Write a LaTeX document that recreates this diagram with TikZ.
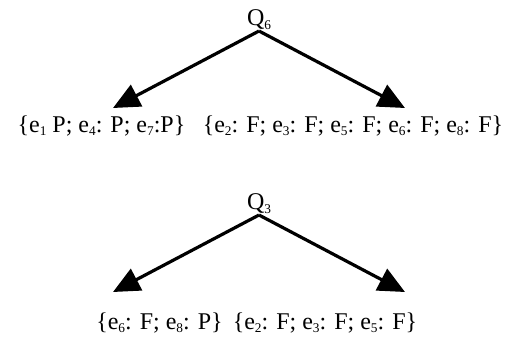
\documentclass[tikz,border=0pt]{standalone}
\usepackage{fontspec}
\setmainfont{Liberation Serif}
\usetikzlibrary{arrows.meta}

\newcommand\ix[1]{\raisebox{-0.35ex}{\fontsize{10}{10}\selectfont #1}}

\begin{document}
\begin{tikzpicture}[x=0.75pt, y=-0.75pt,
  query/.style={font=\fontsize{18}{20}\selectfont, inner sep=1pt, anchor=south},
  set/.style={font=\fontsize{18}{20}\selectfont, inner sep=0pt, anchor=base},
  arr/.style={-{Triangle[length=20pt, width=18pt]}, line width=2.4pt}]

\useasboundingbox (0,0) rectangle (512,337);

% ---------- Q6 ----------
\node[query]                         (q6) at (259, 31) {Q\ix{6}};
\coordinate                          (q6-l) at (113, 108);
\coordinate                          (q6-r) at (405, 108);
\node[set]                           (q6-p) at (101.5, 132) {\{e\ix{1} P; e\ix{4}: P; e\ix{7}:P\}};
\node[set]                           (q6-f) at (353, 132) {\{e\ix{2}: F; e\ix{3}: F; e\ix{5}: F; e\ix{6}: F; e\ix{8}: F\}};

% ---------- Q3 ----------
\node[query]                         (q3) at (259, 215) {Q\ix{3}};
\coordinate                          (q3-l) at (113, 292);
\coordinate                          (q3-r) at (405, 292);
\node[set]                           (q3-p) at (159.5, 329) {\{e\ix{6}: F; e\ix{8}: P\}};
\node[set]                           (q3-f) at (325, 329) {\{e\ix{2}: F; e\ix{3}: F; e\ix{5}: F\}};

\foreach \q in {q6,q3} {
  \foreach \s in {l,r} {
    \draw[arr] (\q.south) -- (\q-\s);
  }
}
\end{tikzpicture}
\end{document}
